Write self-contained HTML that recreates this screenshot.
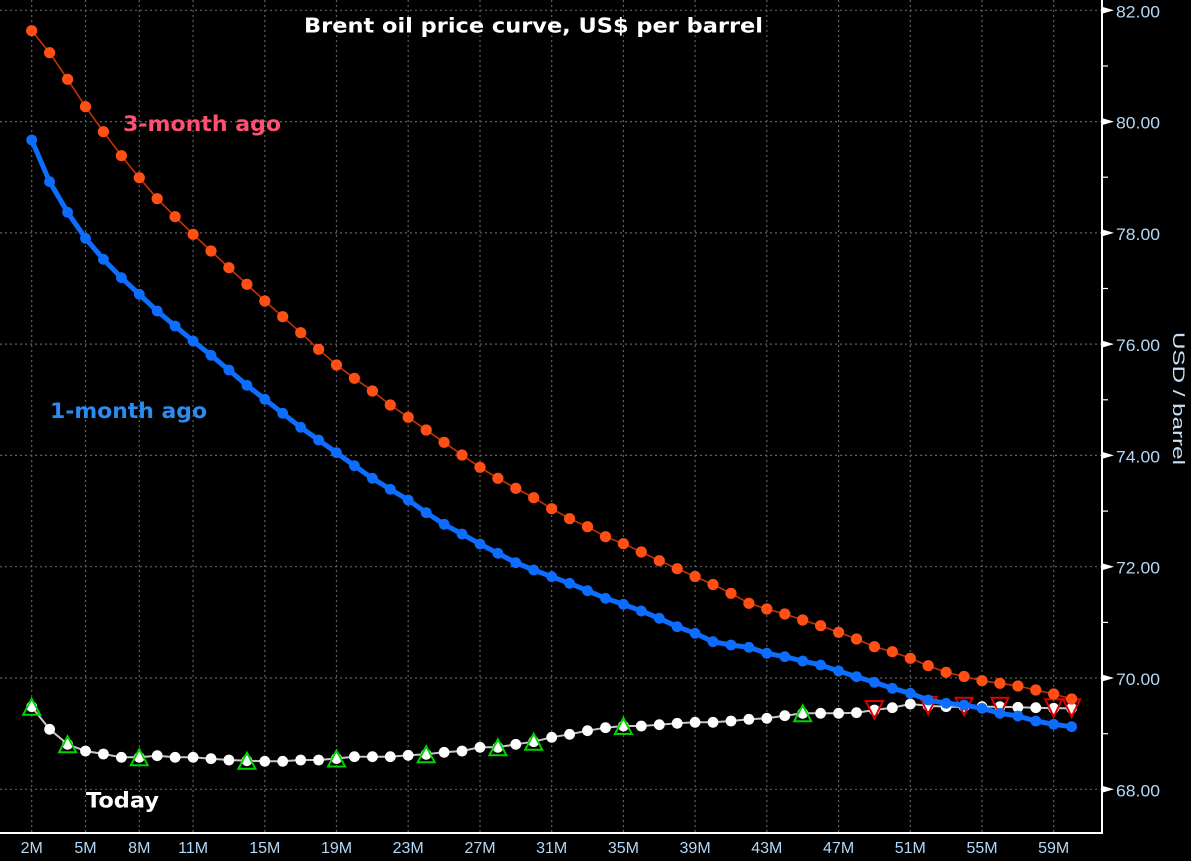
<!DOCTYPE html>
<html><head><meta charset="utf-8"><style>
html,body{margin:0;padding:0;background:#000;}
svg{display:block;}
</style></head><body>
<svg width="1191" height="861" viewBox="0 0 1191 861" xmlns="http://www.w3.org/2000/svg">
<defs>
<marker id="mr" markerWidth="14" markerHeight="14" refX="7" refY="7" markerUnits="userSpaceOnUse"><circle cx="7" cy="7" r="5.6" fill="#ff4f14"/></marker>
<marker id="mb" markerWidth="14" markerHeight="14" refX="7" refY="7" markerUnits="userSpaceOnUse"><circle cx="7" cy="7" r="5.4" fill="#0d6dff"/></marker>
<marker id="mw" markerWidth="14" markerHeight="14" refX="7" refY="7" markerUnits="userSpaceOnUse"><circle cx="7" cy="7" r="5.4" fill="#ffffff"/></marker>
</defs>
<rect width="1191" height="861" fill="#000"/>
<!-- grid -->
<g stroke="#606060" stroke-width="1.2" stroke-dasharray="2,3">
<line x1="31.7" y1="0" x2="31.7" y2="832"/>
<line x1="85.5" y1="0" x2="85.5" y2="832"/>
<line x1="139.3" y1="0" x2="139.3" y2="832"/>
<line x1="193.1" y1="0" x2="193.1" y2="832"/>
<line x1="264.8" y1="0" x2="264.8" y2="832"/>
<line x1="336.5" y1="0" x2="336.5" y2="832"/>
<line x1="408.2" y1="0" x2="408.2" y2="832"/>
<line x1="480.0" y1="0" x2="480.0" y2="832"/>
<line x1="551.7" y1="0" x2="551.7" y2="832"/>
<line x1="623.4" y1="0" x2="623.4" y2="832"/>
<line x1="695.1" y1="0" x2="695.1" y2="832"/>
<line x1="766.8" y1="0" x2="766.8" y2="832"/>
<line x1="838.6" y1="0" x2="838.6" y2="832"/>
<line x1="910.3" y1="0" x2="910.3" y2="832"/>
<line x1="982.0" y1="0" x2="982.0" y2="832"/>
<line x1="1053.7" y1="0" x2="1053.7" y2="832"/>
<line x1="0" y1="10.3" x2="1102" y2="10.3"/>
<line x1="0" y1="121.6" x2="1102" y2="121.6"/>
<line x1="0" y1="232.9" x2="1102" y2="232.9"/>
<line x1="0" y1="344.1" x2="1102" y2="344.1"/>
<line x1="0" y1="455.4" x2="1102" y2="455.4"/>
<line x1="0" y1="566.7" x2="1102" y2="566.7"/>
<line x1="0" y1="678.0" x2="1102" y2="678.0"/>
<line x1="0" y1="789.3" x2="1102" y2="789.3"/>
</g>
<!-- axes -->
<line x1="1102" y1="0" x2="1102" y2="834" stroke="#fff" stroke-width="2"/>
<line x1="0" y1="833" x2="1103" y2="833" stroke="#fff" stroke-width="2"/>
<g fill="#fff">
<polygon points="1102,6.8 1114,10.3 1102,13.8"/>
<polygon points="1102,118.1 1114,121.6 1102,125.1"/>
<polygon points="1102,229.4 1114,232.9 1102,236.4"/>
<polygon points="1102,340.6 1114,344.1 1102,347.6"/>
<polygon points="1102,451.9 1114,455.4 1102,458.9"/>
<polygon points="1102,563.2 1114,566.7 1102,570.2"/>
<polygon points="1102,674.5 1114,678.0 1102,681.5"/>
<polygon points="1102,785.8 1114,789.3 1102,792.8"/>
</g>
<g stroke="#fff" stroke-width="1.2">
<line x1="1102" y1="66.0" x2="1108" y2="66.0"/>
<line x1="1102" y1="177.2" x2="1108" y2="177.2"/>
<line x1="1102" y1="288.5" x2="1108" y2="288.5"/>
<line x1="1102" y1="399.8" x2="1108" y2="399.8"/>
<line x1="1102" y1="511.1" x2="1108" y2="511.1"/>
<line x1="1102" y1="622.4" x2="1108" y2="622.4"/>
<line x1="1102" y1="733.7" x2="1108" y2="733.7"/>
</g>
<g font-family="Liberation Sans, sans-serif" font-size="17" fill="#b4d8f5">
<text x="1116" y="17.3" textLength="44" lengthAdjust="spacingAndGlyphs">82.00</text>
<text x="1116" y="128.6" textLength="44" lengthAdjust="spacingAndGlyphs">80.00</text>
<text x="1116" y="239.9" textLength="44" lengthAdjust="spacingAndGlyphs">78.00</text>
<text x="1116" y="351.1" textLength="44" lengthAdjust="spacingAndGlyphs">76.00</text>
<text x="1116" y="462.4" textLength="44" lengthAdjust="spacingAndGlyphs">74.00</text>
<text x="1116" y="573.7" textLength="44" lengthAdjust="spacingAndGlyphs">72.00</text>
<text x="1116" y="685.0" textLength="44" lengthAdjust="spacingAndGlyphs">70.00</text>
<text x="1116" y="796.3" textLength="44" lengthAdjust="spacingAndGlyphs">68.00</text>
</g>
<text transform="translate(1173,332) rotate(90)" font-family="Liberation Sans, sans-serif" font-size="17" fill="#c8e0f5" textLength="133" lengthAdjust="spacingAndGlyphs">USD / barrel</text>
<g font-family="Liberation Sans, sans-serif" font-size="16" fill="#b4d8f5" text-anchor="middle">
<text x="31.7" y="853">2M</text>
<text x="85.5" y="853">5M</text>
<text x="139.3" y="853">8M</text>
<text x="193.1" y="853">11M</text>
<text x="264.8" y="853">15M</text>
<text x="336.5" y="853">19M</text>
<text x="408.2" y="853">23M</text>
<text x="480.0" y="853">27M</text>
<text x="551.7" y="853">31M</text>
<text x="623.4" y="853">35M</text>
<text x="695.1" y="853">39M</text>
<text x="766.8" y="853">43M</text>
<text x="838.6" y="853">47M</text>
<text x="910.3" y="853">51M</text>
<text x="982.0" y="853">55M</text>
<text x="1053.7" y="853">59M</text>
</g>
<!-- Today series (white) -->
<polyline fill="none" stroke="#c8c8c8" stroke-width="2" marker-start="url(#mw)" marker-mid="url(#mw)" marker-end="url(#mw)" points="31.7,706.7 49.6,729.3 67.6,744.3 85.5,751 103.4,754 121.4,757.3 139.3,757.3 157.2,755.7 175.1,757.3 193.1,757.3 211.0,758.7 228.9,760 246.9,760.7 264.8,761.3 282.7,761.3 300.7,760 318.6,760 336.5,758.5 354.4,756.7 372.4,756.7 390.3,756.7 408.2,755.3 426.2,754.3 444.1,752.3 462.0,751 480.0,747.3 497.9,747.3 515.8,744.3 533.7,741.7 551.7,737.3 569.6,734.3 587.5,730.7 605.5,727.7 623.4,726 641.3,726 659.3,724.7 677.2,723.3 695.1,722.3 713.0,722.3 731.0,721 748.9,719.3 766.8,718.3 784.8,715.7 802.7,713.3 820.6,713.3 838.6,713.3 856.5,712.7 874.4,710 892.3,707.7 910.3,704 928.2,705.7 946.1,706.7 964.1,706.7 982.0,706.7 999.9,706.7 1017.9,707.3 1035.8,707.7 1053.7,708.3 1071.6,708.3"/>
<!-- green up triangles -->
<g fill="none" stroke="#00d400" stroke-width="2">
<polygon points="31.7,698.7 40.2,714.7 23.2,714.7"/>
<polygon points="67.6,736.3 76.1,752.3 59.1,752.3"/>
<polygon points="139.3,749.3 147.8,765.3 130.8,765.3"/>
<polygon points="246.9,752.7 255.4,768.7 238.4,768.7"/>
<polygon points="336.5,750.5 345.0,766.5 328.0,766.5"/>
<polygon points="426.2,746.3 434.7,762.3 417.7,762.3"/>
<polygon points="497.9,739.3 506.4,755.3 489.4,755.3"/>
<polygon points="533.7,733.7 542.2,749.7 525.2,749.7"/>
<polygon points="623.4,718 631.9,734 614.9,734"/>
<polygon points="802.7,705.3 811.2,721.3 794.2,721.3"/>
</g>
<!-- red down triangles -->
<g fill="none" stroke="#e00000" stroke-width="2">
<polygon points="865.9,701 882.9,701 874.4,718.5"/>
<polygon points="919.7,696.7 936.7,696.7 928.2,714.2"/>
<polygon points="955.6,697.7 972.6,697.7 964.1,715.2"/>
<polygon points="991.4,697.7 1008.4,697.7 999.9,715.2"/>
<polygon points="1045.2,699.3 1062.2,699.3 1053.7,716.8"/>
<polygon points="1063.1,699.3 1080.1,699.3 1071.6,716.8"/>
</g>
<!-- 3-month ago (red) -->
<polyline fill="none" stroke="#c83000" stroke-width="1.6" marker-start="url(#mr)" marker-mid="url(#mr)" marker-end="url(#mr)" points="31.7,30.7 49.6,52.7 67.6,79.3 85.5,106.7 103.4,131.7 121.4,155.7 139.3,177.7 157.2,198.7 175.1,216.7 193.1,234.3 211.0,251 228.9,267.7 246.9,284.3 264.8,301 282.7,316.7 300.7,332.7 318.6,349.3 336.5,365 354.4,378.3 372.4,391 390.3,405 408.2,417.3 426.2,430 444.1,442.3 462.0,455 480.0,467.3 497.9,478.3 515.8,488.3 533.7,497.7 551.7,508.7 569.6,518.7 587.5,526.7 605.5,536.7 623.4,543.7 641.3,552 659.3,560.7 677.2,568.7 695.1,576.5 713.0,584.5 731.0,593.3 748.9,603.3 766.8,609 784.8,614 802.7,620 820.6,625.7 838.6,632.3 856.5,639 874.4,646.7 892.3,651.7 910.3,658.3 928.2,665.7 946.1,672.3 964.1,676.5 982.0,680.7 999.9,683.3 1017.9,686 1035.8,690 1053.7,694 1071.6,699"/>
<!-- 1-month ago (blue) -->
<polyline fill="none" stroke="#0d6dff" stroke-width="5" stroke-linejoin="round" marker-start="url(#mb)" marker-mid="url(#mb)" marker-end="url(#mb)" points="31.7,140 49.6,181.7 67.6,212.3 85.5,238.3 103.4,259.3 121.4,277.7 139.3,294.3 157.2,311 175.1,326 193.1,341 211.0,355.3 228.9,370 246.9,385.3 264.8,399.3 282.7,413.3 300.7,427.3 318.6,440 336.5,452.7 354.4,465.7 372.4,478.3 390.3,489.3 408.2,500 426.2,512.7 444.1,524.3 462.0,534 480.0,544 497.9,553.3 515.8,562.7 533.7,570 551.7,576.7 569.6,583.3 587.5,590.7 605.5,598.3 623.4,604.3 641.3,611 659.3,618.3 677.2,626.7 695.1,633.3 713.0,641.7 731.0,645 748.9,647.3 766.8,653.3 784.8,656.7 802.7,661 820.6,665 838.6,671 856.5,676.7 874.4,682.3 892.3,688.3 910.3,693.3 928.2,700 946.1,703.3 964.1,705 982.0,708.3 999.9,713.3 1017.9,716 1035.8,721 1053.7,724.3 1071.6,726.7"/>
<!-- labels -->
<g font-family="DejaVu Sans, Liberation Sans, sans-serif" font-weight="bold">
<text x="304" y="32.5" font-size="20" fill="#ffffff" textLength="459" lengthAdjust="spacingAndGlyphs">Brent oil price curve, US$ per barrel</text>
<text x="123" y="131" font-size="21" fill="#ff5072" textLength="158" lengthAdjust="spacingAndGlyphs">3-month ago</text>
<text x="50" y="418" font-size="21" fill="#2a8cf2" textLength="157" lengthAdjust="spacingAndGlyphs">1-month ago</text>
<text x="86" y="807.5" font-size="21" fill="#ffffff" textLength="73" lengthAdjust="spacingAndGlyphs">Today</text>
</g>
</svg>
</body></html>
